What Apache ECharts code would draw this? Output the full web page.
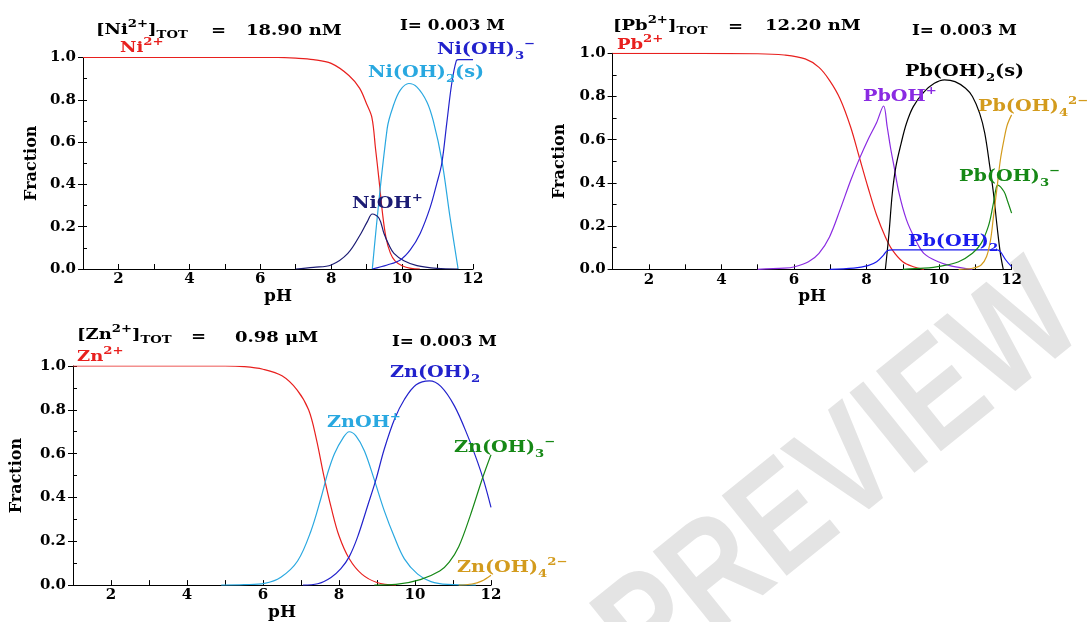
<!DOCTYPE html>
<html><head><meta charset="utf-8">
<script src="https://cdn.jsdelivr.net/npm/echarts@6/dist/echarts.min.js"></script>
<style>html,body{margin:0;padding:0;background:#fff}#c{width:1087px;height:622px}</style>
</head><body><div id="c"></div>
<script>
// ---------- tick labels ----------
const xTickLabels = [2, 4, 6, 8, 10, 12];
const yTickLabels = [0, 0.2, 0.4, 0.6, 0.8, 1.0];

// ---------- Ni panel: [pH, fraction] ----------
const niFree = [[1,1],[6.5,1],[7,0.997],[7.5,0.99],[8,0.972],[8.5,0.915],[8.8,0.855],[9.0,0.78],[9.15,0.715],[9.25,0.57],[9.35,0.42],[9.45,0.26],[9.55,0.145],[9.67,0.075],[9.8,0.038],[10.0,0.015],[10.25,0.003],[10.5,0]];
const niOH2s = [[9.16,0],[9.58,0.665],[9.77,0.78],[9.95,0.846],[10.19,0.877],[10.42,0.86],[10.7,0.79],[10.88,0.70],[11.12,0.515],[11.35,0.247],[11.58,0]];
const niOH = [[7.0,0],[7.5,0.008],[8.0,0.019],[8.47,0.074],[8.84,0.168],[9.02,0.224],[9.16,0.26],[9.35,0.24],[9.49,0.168],[9.63,0.113],[9.77,0.074],[10.05,0.039],[10.42,0.016],[10.98,0.003],[11.58,0]];
const niOH3 = [[9.16,0],[9.58,0.019],[9.95,0.043],[10.23,0.09],[10.51,0.168],[10.79,0.29],[10.98,0.405],[11.12,0.5],[11.26,0.69],[11.4,0.877],[11.53,0.985],[11.6,0.99],[12,0.99]];

// ---------- Pb panel ----------
const pbFree = [[1,1],[5,0.998],[5.73,0.992],[6.31,0.974],[6.69,0.935],[6.98,0.875],[7.27,0.79],[7.56,0.66],[7.8,0.52],[8.04,0.38],[8.28,0.25],[8.52,0.15],[8.71,0.09],[9.0,0.035],[9.29,0.012],[9.58,0]];
const pbOH = [[5.0,0],[5.73,0.005],[6.02,0.012],[6.4,0.035],[6.69,0.074],[6.98,0.15],[7.27,0.275],[7.56,0.41],[7.8,0.51],[8.04,0.6],[8.28,0.68],[8.47,0.756],[8.57,0.66],[8.66,0.565],[8.76,0.475],[8.9,0.35],[9.1,0.23],[9.34,0.14],[9.58,0.074],[9.96,0.036],[10.35,0.015],[10.92,0]];
const pbOH2s = [[8.52,0],[8.62,0.167],[8.71,0.35],[8.81,0.475],[8.95,0.58],[9.1,0.675],[9.29,0.753],[9.58,0.82],[9.87,0.861],[10.15,0.877],[10.44,0.869],[10.73,0.838],[10.92,0.8],[11.12,0.722],[11.26,0.63],[11.4,0.475],[11.5,0.352],[11.6,0.198],[11.69,0.074],[11.77,0]];
const pbOH2aq = [[6.98,0],[7.65,0.005],[8.04,0.017],[8.28,0.035],[8.47,0.066],[8.57,0.086],[8.71,0.09],[11.6,0.09],[11.69,0.082],[11.84,0.043],[12,0.012]];
const pbOH3 = [[9.0,0],[9.58,0.005],[10.06,0.015],[10.54,0.035],[10.92,0.074],[11.16,0.12],[11.36,0.2],[11.48,0.29],[11.58,0.38],[11.62,0.39],[11.79,0.36],[11.88,0.32],[12,0.26]];
const pbOH4 = [[10.54,0],[10.92,0.005],[11.16,0.02],[11.31,0.059],[11.42,0.136],[11.5,0.244],[11.6,0.38],[11.69,0.506],[11.79,0.6],[11.88,0.668],[12,0.715]];

// ---------- Zn panel ----------
const znFree = [[1,1],[5.0,1],[5.5,0.997],[6.0,0.985],[6.5,0.955],[6.9,0.89],[7.2,0.8],[7.4,0.67],[7.6,0.5],[7.8,0.35],[8.0,0.225],[8.27,0.12],[8.6,0.05],[9.0,0.012],[9.5,0]];
const znOH = [[4.9,0],[5.5,0.002],[6.04,0.008],[6.47,0.036],[6.91,0.11],[7.26,0.246],[7.53,0.40],[7.7,0.51],[7.88,0.60],[8.1,0.67],[8.27,0.70],[8.45,0.68],[8.67,0.612],[8.93,0.48],[9.19,0.34],[9.46,0.218],[9.72,0.12],[10.07,0.05],[10.42,0.016],[10.86,0.003],[11.6,0]];
const znOH2 = [[7.05,0],[7.44,0.006],[7.79,0.035],[8.05,0.075],[8.27,0.13],[8.49,0.22],[8.75,0.36],[8.97,0.48],[9.19,0.62],[9.46,0.757],[9.72,0.847],[10.03,0.914],[10.38,0.932],[10.68,0.907],[11.04,0.817],[11.39,0.68],[11.65,0.56],[11.82,0.47],[12.0,0.355]];
const znOH3 = [[8.93,0],[9.5,0.003],[10.14,0.025],[10.65,0.064],[10.9,0.105],[11.15,0.175],[11.45,0.315],[11.78,0.49],[12,0.595]];
const znOH4 = [[11.15,0],[11.5,0.005],[11.75,0.018],[12,0.045]];

const FONT = '"DejaVu Serif", "Liberation Serif", serif';
const C = {red:'#e8201e', lblue:'#29a8e0', navy:'#1c1c74', blue:'#2222cc', purple:'#8a2be2', black:'#000000', aqblue:'#1a1aee', green:'#168816', gold:'#d39b1d'};

const grids = [
  {left:83, top:57.5, width:390, height:211.5},
  {left:612.6, top:53.3, width:399, height:216},
  {left:73, top:366, width:418, height:224}
];
const nameGaps = [43, 45, 48];

const xAxes = [], yAxes = [];
grids.forEach((g, i) => {
  xAxes.push({
    type:'value', gridIndex:i, min:1, max:12, interval:1,
    axisLine:{lineStyle:{color:'#000', width:1}},
    axisTick:{inside:true, length:5, lineStyle:{color:'#000'}},
    axisLabel:{formatter:v => xTickLabels.includes(v) ? String(v) : '', color:'#000', fontFamily:FONT, fontWeight:'bold', fontSize:15, margin:3},
    splitLine:{show:false},
    name:'pH', nameLocation:'middle', nameGap:15,
    nameTextStyle:{color:'#000', fontFamily:FONT, fontWeight:'bold', fontSize:17}
  });
  yAxes.push({
    type:'value', gridIndex:i, min:0, max:1, interval:0.2, position:'left',
    axisLine:{show:true, lineStyle:{color:'#000', width:1}},
    axisTick:{show:true, inside:false, length:5, lineStyle:{color:'#000'}},
    axisLabel:{formatter:v => yTickLabels.some(t => Math.abs(t - v) < 1e-6) ? v.toFixed(1) : '', color:'#000', fontFamily:FONT, fontWeight:'bold', fontSize:15, margin:7},
    splitLine:{show:false},
    name:'Fraction', nameLocation:'middle', nameGap:nameGaps[i], nameRotate:90,
    nameTextStyle:{color:'#000', fontFamily:FONT, fontWeight:'bold', fontSize:16}
  });
  yAxes.push({
    type:'value', gridIndex:i, min:0, max:1, interval:0.1, position:'left',
    axisLine:{show:false}, axisLabel:{show:false}, splitLine:{show:false},
    axisTick:{show:true, inside:true, length:4, lineStyle:{color:'#000'}}
  });
});

function line(g, data, color) {
  return {type:'line', xAxisIndex:g, yAxisIndex:2*g, data:data, showSymbol:false, symbol:'none',
    smooth:0.35, lineStyle:{color:color, width:1.2}, itemStyle:{color:color}, silent:true, z:3};
}
const series = [
  line(0, niFree, C.red), line(0, niOH2s, C.lblue), line(0, niOH, C.navy), line(0, niOH3, C.blue),
  line(1, pbFree, C.red), line(1, pbOH, C.purple), line(1, pbOH2s, C.black), line(1, pbOH2aq, C.aqblue), line(1, pbOH3, C.green), line(1, pbOH4, C.gold),
  line(2, znFree, C.red), line(2, znOH, C.lblue), line(2, znOH2, C.blue), line(2, znOH3, C.green), line(2, znOH4, C.gold)
];

function rich(size) {
  const s = Math.round(size * 0.7);
  return {
    sup:{fontSize:s, fontFamily:FONT, fontWeight:'bold', verticalAlign:'top', lineHeight:Math.round(s*1.05)},
    sub:{fontSize:s, fontFamily:FONT, fontWeight:'bold', verticalAlign:'bottom', lineHeight:Math.round(s*1.05)}
  };
}
function T(x, y, text, color, size) {
  return {type:'text', x:x, y:y, scaleX:1.2, z:20,
    style:{text:text, fill:color, fontSize:size, fontFamily:FONT, fontWeight:'bold',
      lineHeight:Math.round(size*1.45), rich:rich(size), align:'left', verticalAlign:'middle'}};
}
const texts = [
  // Ni
  T(96, 30, '[Ni{sup|2+}]{sub|TOT}', '#000', 15), T(211, 31, '=', '#000', 15), T(246, 31, '18.90 nM', '#000', 15),
  T(400, 26, 'I= 0.003 M', '#000', 14),
  T(120, 48, 'Ni{sup|2+}', C.red, 15),
  T(437, 50, 'Ni(OH){sub|3}{sup|−}', C.blue, 16),
  T(368, 73, 'Ni(OH){sub|2}(s)', C.lblue, 16),
  T(352, 204, 'NiOH{sup|+}', C.navy, 16),
  // Pb
  T(613, 26, '[Pb{sup|2+}]{sub|TOT}', '#000', 15), T(728, 27, '=', '#000', 15), T(765, 26, '12.20 nM', '#000', 15),
  T(912, 31, 'I= 0.003 M', '#000', 14),
  T(617, 45, 'Pb{sup|2+}', C.red, 15),
  T(905, 72, 'Pb(OH){sub|2}(s)', C.black, 16),
  T(863, 97, 'PbOH{sup|+}', C.purple, 16),
  T(978, 107, 'Pb(OH){sub|4}{sup|2−}', C.gold, 16),
  T(959, 177, 'Pb(OH){sub|3}{sup|−}', C.green, 16),
  T(908, 242, 'Pb(OH){sub|2}', C.aqblue, 16),
  // Zn
  T(77, 335, '[Zn{sup|2+}]{sub|TOT}', '#000', 15), T(191, 337, '=', '#000', 15), T(235, 338, '0.98 μM', '#000', 15),
  T(392, 342, 'I= 0.003 M', '#000', 14),
  T(77, 357, 'Zn{sup|2+}', C.red, 15),
  T(390, 373, 'Zn(OH){sub|2}', C.blue, 16),
  T(327, 423, 'ZnOH{sup|+}', C.lblue, 16),
  T(454, 448, 'Zn(OH){sub|3}{sup|−}', C.green, 16),
  T(457, 568, 'Zn(OH){sub|4}{sup|2−}', C.gold, 16)
];
const watermark = {type:'text', x:842, y:478, rotation:0.68, scaleX:0.82, z:0,
  style:{text:'PREVIEW', fontSize:150, fontFamily:'"Liberation Sans", Arial, sans-serif', fontWeight:'bold',
    fill:'#e4e4e4', align:'center', verticalAlign:'middle'}};

const chart = echarts.init(document.getElementById('c'), null, {renderer:'canvas'});
chart.setOption({
  backgroundColor:'#ffffff',
  animation:false,
  grid:grids,
  xAxis:xAxes,
  yAxis:yAxes,
  series:series,
  graphic:[watermark].concat(texts)
});
</script>
</body></html>
